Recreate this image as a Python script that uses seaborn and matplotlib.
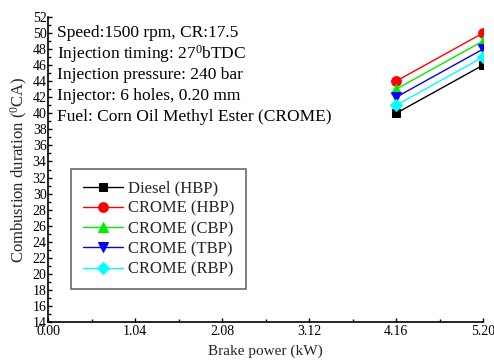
import matplotlib
matplotlib.use("Agg")
import matplotlib.pyplot as plt
import seaborn as sns
import pandas as pd
from matplotlib.ticker import MultipleLocator, FixedLocator

power = [4.16, 5.20]
diesel_hbp = [40, 46]
crome_hbp = [44, 50]
crome_cbp = [43, 49]
crome_tbp = [42, 48]
crome_rbp = [41, 47]
series_names = ["Diesel (HBP)", "CROME (HBP)", "CROME (CBP)", "CROME (TBP)", "CROME (RBP)"]
xticks = [0.00, 1.04, 2.08, 3.12, 4.16, 5.20]
info_lines = ["Speed:1500 rpm, CR:17.5",
              "Injection timing: 27$^0$bTDC",
              "Injection pressure: 240 bar",
              "Injector: 6 holes, 0.20 mm",
              "Fuel: Corn Oil Methyl Ester (CROME)"]

sns.set_theme(style="white")
plt.rcParams['font.family'] = ['Liberation Serif', 'DejaVu Serif']
plt.rcParams['mathtext.fontset'] = 'custom'
plt.rcParams['mathtext.rm'] = 'Liberation Serif'
plt.rcParams['mathtext.it'] = 'Liberation Serif'

rows = []
for name, vals in zip(series_names, [diesel_hbp, crome_hbp, crome_cbp, crome_tbp, crome_rbp]):
    for x, y in zip(power, vals):
        rows.append({"power": x, "dur": y, "series": name})
df = pd.DataFrame(rows)

colors = ["black", "red", "#00ee00", "blue", "cyan"]
markers = ["s", "o", "^", "v", "D"]
msizes = [6, 7, 7, 7, 6]

fig = plt.figure(figsize=(4.94, 3.60), dpi=100)
ax = fig.add_axes([48/494, 1-322/360, (483-48)/494, (322-17)/360])

for name, c, m, ms in zip(series_names, colors, markers, msizes):
    sub = df[df.series == name]
    sns.lineplot(data=sub, x="power", y="dur", ax=ax, color=c, marker=m,
                 markersize=ms, markeredgecolor=c, linewidth=1, label=name)

ax.set_xlim(0, 5.20)
ax.set_ylim(14, 52)
ax.xaxis.set_major_locator(FixedLocator(xticks))
ax.set_xticklabels([f"{v:.2f}" for v in xticks], fontsize=10)
ax.xaxis.set_minor_locator(MultipleLocator(0.52))
ax.yaxis.set_major_locator(MultipleLocator(2))
ax.yaxis.set_minor_locator(MultipleLocator(1))
ax.tick_params(axis='y', labelsize=10, pad=1)
ax.tick_params(axis='x', pad=2)
ax.tick_params(which='both', direction='in', length=3, width=1, left=True, bottom=True, colors='black')
ax.tick_params(which='minor', length=2)
for s in ['top', 'right']:
    ax.spines[s].set_visible(False)
for s in ['left', 'bottom']:
    ax.spines[s].set_color('black')
    ax.spines[s].set_linewidth(1.2)

ax.set_xlabel("Brake power (kW)", fontsize=11, labelpad=5)
ax.set_ylabel("Combustion duration ($^0$CA)", fontsize=12, labelpad=2)

for i, t in enumerate(info_lines):
    ax.text(0.02, (322-33-i*21)/305, t,
            transform=ax.transAxes, fontsize=12.5, va='center', ha='left', color='black')

leg = ax.legend(loc='upper left', bbox_to_anchor=((71-48)/435, (322-169)/305),
                borderaxespad=0,
                frameon=True, fancybox=False, fontsize=12, handlelength=2.4,
                borderpad=0.7, labelspacing=0.25, handletextpad=0.3)
leg.get_frame().set_edgecolor('#444444')
leg.get_frame().set_linewidth(1.2)

fig.savefig("out.png", dpi=100)
